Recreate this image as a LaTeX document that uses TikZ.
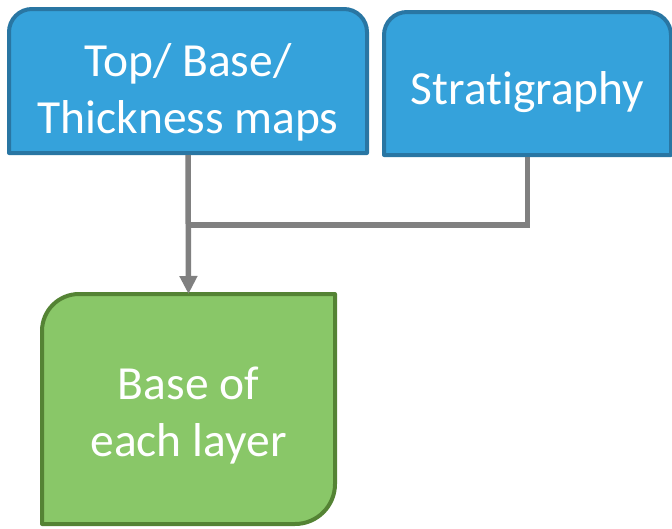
\documentclass[tikz,border=0pt]{standalone}
\usepackage{fontspec}
\setmainfont{Carlito}[Ligatures=NoCommon]
\usetikzlibrary{arrows.meta,backgrounds}
\definecolor{boxblue}{RGB}{53,162,219}
\definecolor{boxblueline}{RGB}{41,118,163}
\definecolor{boxgreen}{RGB}{137,199,104}
\definecolor{boxgreenline}{RGB}{84,131,52}
\definecolor{linkgray}{RGB}{128,128,128}
\begin{document}
\begin{tikzpicture}[x=1pt,y=-1pt,
  frame/.style={inner sep=0pt, outer sep=0pt},
  caption/.style={text=white, align=center, inner sep=0pt,
    font=\fontsize{47.5}{57}\selectfont},
  blueoutline/.style={fill=boxblue, draw=boxblueline, line width=4pt, line join=round},
  greenoutline/.style={fill=boxgreen, draw=boxgreenline, line width=4pt, line join=round},
  link/.style={draw=linkgray, line width=5.5pt, line join=miter}]
\useasboundingbox (0,0) rectangle (672,528);

% frames of the three boxes
\node[frame, minimum width=358pt, minimum height=144pt] (maps) at (188,81) {};
\node[frame, minimum width=287pt, minimum height=143pt] (strat) at (527.5,83.5) {};
\node[frame, minimum width=293pt, minimum height=230pt] (base) at (188.5,409) {};

\begin{scope}[on background layer]
  % blue boxes: rounded top corners
  \draw[blueoutline] (maps.south west) -- ([yshift=-23pt]maps.north west)
    arc[start angle=180, end angle=90, radius=23pt]
    -- ([xshift=-23pt]maps.north east)
    arc[start angle=90, end angle=0, radius=23pt]
    -- (maps.south east) -- cycle;
  \draw[blueoutline] (strat.south west) -- ([yshift=-23pt]strat.north west)
    arc[start angle=180, end angle=90, radius=23pt]
    -- ([xshift=-23pt]strat.north east)
    arc[start angle=90, end angle=0, radius=23pt]
    -- (strat.south east) -- cycle;
  % green box: rounded top-left and bottom-right corners
  \draw[greenoutline] (base.south west) -- ([yshift=-37pt]base.north west)
    arc[start angle=180, end angle=90, radius=37pt]
    -- (base.north east) -- ([yshift=40pt]base.south east)
    arc[start angle=0, end angle=-90, radius=40pt]
    -- cycle;
\end{scope}

% captions
\node[caption] (mapstext) at (188,92) {Top/ Base/\\Thickness maps};
\node[caption] (strattext) at (527.5,92) {Stratigraphy};
\node[caption] (basetext) at (188.5,416) {Base of\\each layer};

% connectors
\coordinate (join) at (188,225);
\draw[link, -{Triangle[length=18pt, width=17pt]}] ([yshift=-2pt]maps.south) -- (base.north);
\draw[link] ([yshift=-2pt]strat.south) |- (join);
\end{tikzpicture}
\end{document}
